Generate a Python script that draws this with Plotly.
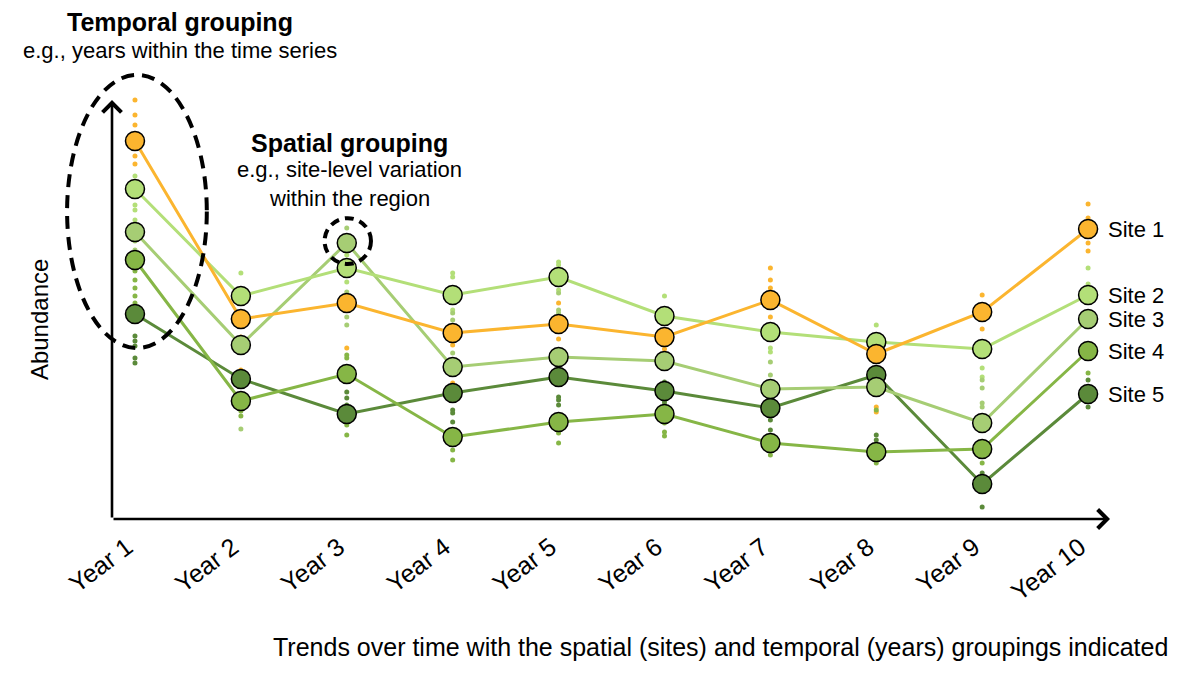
import plotly.graph_objects as go

years = [1, 2, 3, 4, 5, 6, 7, 8, 9, 10]
year_labels = ["Year 1", "Year 2", "Year 3", "Year 4", "Year 5",
               "Year 6", "Year 7", "Year 8", "Year 9", "Year 10"]

sites = ["Site 1", "Site 2", "Site 3", "Site 4", "Site 5"]
colors = ["#FBB52F", "#B3DF78", "#A6CD74", "#86B646", "#5B8A3A"]

# mean abundance per site and year
site1 = [37.9, 20.1, 21.7, 18.7, 19.6, 18.3, 22.0, 16.6, 20.8, 29.1]
site2 = [33.1, 22.4, 25.2, 22.5, 24.3, 20.4, 18.8, 17.8, 17.1, 22.5]
site3 = [28.8, 17.5, 27.7, 15.3, 16.3, 15.9, 13.1, 13.3, 9.7, 20.1]
site4 = [26.0, 11.9, 14.6, 8.3, 9.8, 10.6, 7.7, 6.8, 7.1, 16.9]
site5 = [20.6, 14.1, 10.6, 12.7, 14.3, 12.9, 11.2, 14.5, 3.6, 12.6]
means = [site1, site2, site3, site4, site5]

# individual observations (year, abundance)
obs1_year = [1, 1, 1, 1, 1, 2, 2, 3, 4, 4, 5, 5, 6, 7, 7, 7, 7, 8, 8, 9, 9, 10, 10, 10, 10]
obs1_val = [42.0, 40.5, 39.5, 36.4, 35.6, 18.3, 15.0, 17.2, 17.5, 13.7, 21.7, 18.1, 17.1,
            25.2, 24.0, 23.2, 20.3, 11.3, 10.8, 22.5, 19.1, 31.6, 30.2, 27.7, 26.9]
obs2_year = [1, 1, 1, 1, 2, 3, 3, 4, 4, 4, 5, 5, 5, 6, 7, 7, 8, 9, 9, 10, 10]
obs2_val = [34.4, 31.5, 31.0, 30.0, 24.7, 26.5, 23.8, 24.7, 24.3, 21.0, 25.8, 25.5, 23.0,
            22.4, 17.2, 16.8, 19.5, 15.2, 14.3, 25.2, 23.6]
obs3_year = [1, 1, 2, 3, 3, 3, 3, 4, 4, 4, 5, 5, 5, 7, 7, 9, 9, 9, 9, 10]
obs3_val = [27.9, 27.0, 9.1, 29.2, 22.8, 20.3, 19.5, 20.7, 20.0, 16.7, 22.7, 21.0, 20.7,
            15.8, 14.5, 14.0, 13.2, 11.7, 11.3, 23.2]
obs4_year = [1, 1, 1, 1, 1, 2, 2, 3, 3, 3, 3, 4, 4, 5, 5, 5, 6, 6, 6, 7, 8, 8, 9, 10]
obs4_val = [24.9, 24.0, 23.2, 22.4, 21.7, 10.9, 10.4, 16.5, 16.2, 9.5, 8.5, 7.0, 6.0,
            15.2, 8.7, 7.7, 9.7, 8.8, 8.4, 6.5, 11.0, 5.7, 5.7, 14.7]
obs5_year = [1, 1, 1, 1, 1, 3, 3, 3, 4, 4, 4, 5, 5, 5, 6, 6, 6, 7, 7, 8, 8, 9, 9, 10, 10, 10]
obs5_val = [18.4, 17.9, 17.4, 16.2, 15.7, 12.8, 12.2, 11.5, 11.0, 10.7, 9.8, 12.3, 12.0,
            11.5, 13.8, 11.8, 11.5, 10.0, 9.0, 8.5, 8.0, 4.7, 1.3, 14.0, 12.0, 11.3]
obs_years = [obs1_year, obs2_year, obs3_year, obs4_year, obs5_year]
obs_vals = [obs1_val, obs2_val, obs3_val, obs4_val, obs5_val]

font = "Liberation Sans, Arial, sans-serif"
x_range = [0.783, 10.207]
y_range = [0.1, 42.0]

fig = go.Figure()

# small observation dots
for i in range(5):
    fig.add_trace(go.Scatter(x=obs_years[i], y=obs_vals[i], mode="markers",
                             marker=dict(size=5, color=colors[i]),
                             showlegend=False, cliponaxis=False, hoverinfo="skip"))

# site means
for i in range(4, -1, -1):
    fig.add_trace(go.Scatter(x=years, y=means[i], mode="lines+markers", name=sites[i],
                             line=dict(color=colors[i], width=3),
                             marker=dict(size=19, color=colors[i],
                                         line=dict(color="black", width=1.5)),
                             showlegend=False, cliponaxis=False))

# site labels at the right end
for i in range(5):
    fig.add_annotation(x=years[-1], y=means[i][-1], text=sites[i], showarrow=False,
                       xanchor="left", xshift=18, font=dict(size=22, color="black"))

# axis arrows
fig.add_annotation(x=x_range[1], y=y_range[0], ax=x_range[0], ay=y_range[0],
                   xref="x", yref="y", axref="x", ayref="y", text="",
                   showarrow=True, arrowhead=4, arrowsize=1.4, arrowwidth=2.6,
                   arrowcolor="black", standoff=0)
fig.add_annotation(x=x_range[0], y=y_range[1], ax=x_range[0], ay=y_range[0],
                   xref="x", yref="y", axref="x", ayref="y", text="",
                   showarrow=True, arrowhead=4, arrowsize=1.4, arrowwidth=2.6,
                   arrowcolor="black", standoff=0)

# grouping highlights
fig.add_shape(type="circle", xref="paper", yref="paper",
              x0=-0.045, x1=0.095, y0=0.408, y1=1.060,
              line=dict(color="black", width=4, dash="13px,8px"))
fig.add_shape(type="circle", xref="paper", yref="paper",
              x0=0.213, x1=0.2595, y0=0.6086, y1=0.718,
              line=dict(color="black", width=4, dash="9px,6px"))

def note(x, y, text, size, **kw):
    fig.add_annotation(xref="paper", yref="paper", x=x, y=y, text=text,
                       xanchor=kw.pop("xanchor", "center"), yanchor="middle",
                       showarrow=False, font=dict(size=size, color="black"), **kw)

note(0.068, 1.186, "<b>Temporal grouping</b>", 25)
note(0.068, 1.119, "e.g., years within the time series", 22)
note(0.2375, 0.897, "<b>Spatial grouping</b>", 25)
note(0.2375, 0.833, "e.g., site-level variation", 22)
note(0.2375, 0.766, "within the region", 22)
note(-0.072, 0.475, "Abundance", 24, textangle=-90)
note(1.060, -0.305,
     "Trends over time with the spatial (sites) and temporal (years) groupings indicated",
     25, xanchor="right")

fig.update_layout(
    width=1200, height=678,
    margin=dict(l=104, r=98, t=92, b=167),
    plot_bgcolor="white", paper_bgcolor="white",
    font=dict(family=font, color="black"),
    xaxis=dict(range=x_range, tickmode="array", tickvals=years, ticktext=year_labels,
               tickangle=-37, showgrid=False, zeroline=False, showline=False,
               ticks="", tickfont=dict(size=25), ticklabelstandoff=8,
               ticklabelshift=-8),
    yaxis=dict(range=y_range, showticklabels=False, showgrid=False, zeroline=False,
               showline=False, ticks=""),
)

fig.write_html("out.html")
